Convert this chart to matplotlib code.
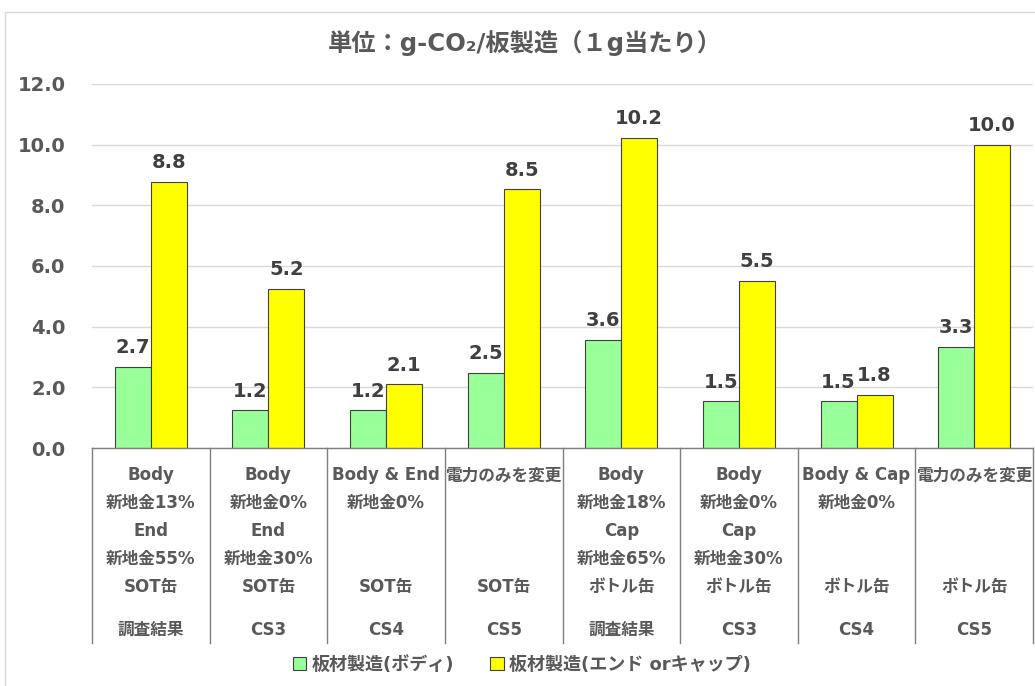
import matplotlib
matplotlib.use("Agg")
import matplotlib.pyplot as plt
from matplotlib.patches import Patch, Rectangle
from matplotlib.lines import Line2D
import matplotlib.transforms as mtransforms
import numpy as np

plt.rcParams['font.family'] = ['DejaVu Sans', 'Noto Sans CJK JP']

title = "単位：g-CO₂/板製造（１g当たり）"
series_names = ["板材製造(ボディ)", "板材製造(エンド orキャップ)"]
body_values = [2.68, 1.24, 1.24, 2.47, 3.57, 1.54, 1.54, 3.33]
end_values = [8.77, 5.24, 2.10, 8.53, 10.22, 5.51, 1.76, 10.0]
outer_labels = ["調査結果", "CS3", "CS4", "CS5", "調査結果", "CS3", "CS4", "CS5"]
inner_labels = [
    ["Body", "新地金13%", "End", "新地金55%", "SOT缶"],
    ["Body", "新地金0%", "End", "新地金30%", "SOT缶"],
    ["Body & End", "新地金0%", "", "", "SOT缶"],
    ["電力のみを変更", "", "", "", "SOT缶"],
    ["Body", "新地金18%", "Cap", "新地金65%", "ボトル缶"],
    ["Body", "新地金0%", "Cap", "新地金30%", "ボトル缶"],
    ["Body & Cap", "新地金0%", "", "", "ボトル缶"],
    ["電力のみを変更", "", "", "", "ボトル缶"],
]
yticks = [0, 2, 4, 6, 8, 10, 12]

W, H = 1035, 686
fig = plt.figure(figsize=(W / 100, H / 100), dpi=100)
fig.patch.set_facecolor("white")

def fy(py):
    return 1 - py / H

left_px, right_px, top_px, bot_px = 92, 1033, 84, 448
ax = fig.add_axes([left_px / W, fy(bot_px), (right_px - left_px) / W, (bot_px - top_px) / H])

n = len(body_values)
x = np.arange(n)
bw = 0.306
txt = "#595959"
lbl = "#404040"

b1 = ax.bar(x - bw / 2, body_values, bw, color="#99FF99", edgecolor="#404040", linewidth=0.8, zorder=3)
b2 = ax.bar(x + bw / 2, end_values, bw, color="#FFFF00", edgecolor="#404040", linewidth=0.8, zorder=3)

for bars, vals in ((b1, body_values), (b2, end_values)):
    for r, v in zip(bars, vals):
        ax.annotate(f"{v:.1f}", (r.get_x() + r.get_width() / 2, r.get_height()),
                    xytext=(0, 7), textcoords="offset points", ha="center", va="bottom",
                    fontsize=14, fontweight="bold", color=lbl, zorder=4)

ax.set_xlim(-0.5, n - 0.5)
ax.set_ylim(0, 12)
ax.set_yticks(yticks)
ax.set_yticklabels([f"{t:.1f}" for t in yticks], fontsize=14, fontweight="bold", color=txt)
ax.tick_params(axis="y", length=0, pad=19)
ax.set_xticks([])
ax.grid(axis="y", color="#D9D9D9", linewidth=1.0, zorder=0)
for s in ("top", "right", "left"):
    ax.spines[s].set_visible(False)
ax.spines["bottom"].set_color("#7F7F7F")
ax.spines["bottom"].set_linewidth(1.0)
ax.spines["bottom"].set_zorder(5)

trans = mtransforms.blended_transform_factory(ax.transData, fig.transFigure)
for b in np.arange(n + 1) - 0.5:
    ax.add_line(Line2D([b, b], [fy(bot_px), fy(643)], transform=trans, color="#7F7F7F",
                       linewidth=1.0, clip_on=False))

line_ys = [475, 503, 531, 559, 587]
for i in range(n):
    for ly, t in zip(line_ys, inner_labels[i]):
        if t:
            ax.text(i, fy(ly), t, transform=trans, ha="center", va="center",
                    fontsize=12, fontweight="bold", color=txt, clip_on=False)
    ax.text(i, fy(630), outer_labels[i], transform=trans, ha="center", va="center",
            fontsize=12, fontweight="bold", color=txt, clip_on=False)

fig.text(525 / W, fy(43), title, ha="center", va="center", fontsize=17.5,
         fontweight="bold", color=txt)

fig.patches.append(Rectangle((5 / W, -0.1), 1.2, fy(12) + 0.1, transform=fig.transFigure,
                             facecolor="none", edgecolor="#D9D9D9", linewidth=1.0))

handles = [Patch(facecolor="#99FF99", edgecolor="#404040", linewidth=0.8),
           Patch(facecolor="#FFFF00", edgecolor="#404040", linewidth=0.8)]
leg = fig.legend(handles, series_names, loc="center", bbox_to_anchor=(522 / W, fy(665)),
                 ncol=2, frameon=False, handlelength=0.75, handleheight=0.75,
                 handletextpad=0.3, columnspacing=2.0,
                 prop={"size": 13, "weight": "bold"})
for t in leg.get_texts():
    t.set_color(txt)

fig.savefig("out.png", dpi=100)
